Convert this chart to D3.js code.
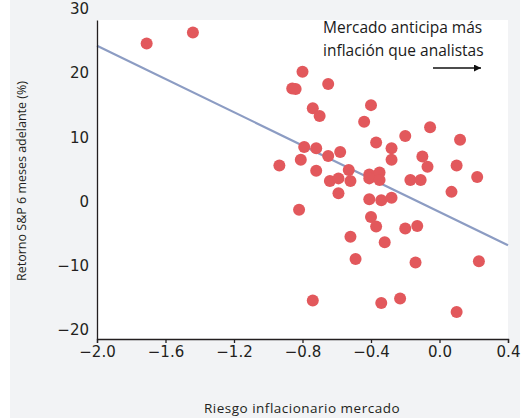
<!DOCTYPE html>
<html lang="es">
<head>
<meta charset="utf-8">
<title>Retorno S&P vs riesgo inflacionario</title>
<script src="https://d3js.org/d3.v7.min.js"></script>
<style>
  body { margin: 0; background: #ffffff; }
  .axis text { font-family: "DejaVu Sans", sans-serif; font-size: 15px; fill: #231f20; }
  .axis path, .axis line { stroke: #231f20; stroke-width: 1.3; }
  .axis_label { font-family: "Open Sans", sans-serif; font-size: 12px; fill: #231f20; }
  .note { font-family: "Open Sans", sans-serif; font-size: 15.5px; fill: #1a1a1a; }
</style>
</head>
<body>
<script>
// data: market inflation risk (x) vs S&P return 6 months ahead (y)
const riesgo = [-1.71, -1.44, -0.80, -0.86, -0.84, -0.65, -0.74, -0.70, -0.40, -0.44,
  -0.055, -0.20, 0.12, -0.37, -0.28, -0.79, -0.72, -0.58, -0.65, -0.10,
  -0.935, -0.81, -0.28, -0.07, 0.10, -0.72, -0.53, -0.41, -0.35, -0.41,
  -0.35, -0.64, -0.59, -0.52, -0.17, -0.11, 0.22, -0.59, 0.07, -0.41,
  -0.34, -0.28, -0.82, -0.40, -0.37, -0.20, -0.13, -0.52, -0.32, -0.49,
  -0.14, 0.23, -0.74, -0.34, -0.23, 0.10];
const retorno = [24.6, 26.3, 20.2, 17.6, 17.5, 18.3, 14.5, 13.3, 15.0, 12.4,
  11.55, 10.2, 9.6, 9.2, 8.3, 8.5, 8.3, 7.7, 7.1, 7.0,
  5.6, 6.5, 6.5, 5.4, 5.6, 4.8, 4.9, 4.2, 4.5, 3.6,
  3.35, 3.2, 3.6, 3.2, 3.35, 3.35, 3.8, 1.3, 1.5, 0.35,
  0.2, 0.6, -1.3, -2.4, -3.9, -4.2, -3.8, -5.5, -6.35, -8.95,
  -9.5, -9.3, -15.4, -15.8, -15.1, -17.2];

// fitted trend line: retorno = intercept + slope * riesgo
const fitIntercept = -1.63;
const fitSlope = -12.94;

const xTicks = [-2.0, -1.6, -1.2, -0.8, -0.4, 0.0, 0.4];
const yTicks = [-20, -10, 0, 10, 20, 30];
const noteLines = ["Mercado anticipa más", "inflación que analistas"];

const w = 529;
const h = 419;
const plot = { left: 97, right: 508, top: 20, bottom: 339 };

const xScale = d3.scaleLinear()
  .domain([-2.0, 0.4])
  .range([plot.left, plot.right]);

const yScale = d3.scaleLinear()
  .domain([-21.4, 28.25])
  .range([plot.bottom, plot.top]);

const svg = d3.select("body")
  .append("svg")
  .attr("width", w)
  .attr("height", h);

// grey panel + white plot area
svg.append("rect")
  .attr("x", 10).attr("y", 0)
  .attr("width", 510).attr("height", 418)
  .attr("fill", "#f2f3f5");

svg.append("rect")
  .attr("x", plot.left).attr("y", plot.top)
  .attr("width", plot.right - plot.left)
  .attr("height", plot.bottom - plot.top)
  .attr("fill", "#ffffff");

// trend line
const domainX = xScale.domain();
svg.append("line")
  .attr("x1", xScale(domainX[0]))
  .attr("y1", yScale(fitIntercept + fitSlope * domainX[0]))
  .attr("x2", xScale(domainX[1]))
  .attr("y2", yScale(fitIntercept + fitSlope * domainX[1]))
  .attr("stroke", "#8c9cc3")
  .attr("stroke-width", 2.2);

// dots
svg.selectAll(".dot")
  .data(d3.zip(riesgo, retorno))
  .join("circle")
  .attr("class", "dot")
  .attr("cx", d => xScale(d[0]))
  .attr("cy", d => yScale(d[1]))
  .attr("r", 6)
  .attr("fill", "#e2585c");

const fmtMinus = s => s.replace("-", "\u2212");

// bottom axis
const bottomAxis = d3.axisBottom(xScale)
  .tickValues(xTicks)
  .tickSize(4)
  .tickPadding(3)
  .tickFormat(d => fmtMinus(d3.format(".1f")(d)));

svg.append("g")
  .attr("class", "axis")
  .attr("transform", "translate(0," + plot.bottom + ")")
  .call(bottomAxis);

// left axis (no tick marks)
const leftAxis = d3.axisLeft(yScale)
  .tickValues(yTicks)
  .tickSize(0)
  .tickPadding(8)
  .tickFormat(d => fmtMinus(String(d)));

svg.append("g")
  .attr("class", "axis")
  .attr("transform", "translate(" + plot.left + ",0)")
  .call(leftAxis);

// axis titles
svg.append("text")
  .attr("class", "axis_label")
  .attr("text-anchor", "middle")
  .attr("transform", "translate(26,181) rotate(-90)")
  .style("font-size", "12.5px")
  .text("Retorno S&P 6 meses adelante (%)");

svg.append("text")
  .attr("class", "axis_label")
  .attr("x", 302)
  .attr("y", 413)
  .attr("text-anchor", "middle")
  .style("font-size", "13.5px")
  .style("letter-spacing", "0.5px")
  .text("Riesgo inflacionario mercado");

// annotation
svg.selectAll(".note")
  .data(noteLines)
  .join("text")
  .attr("class", "note")
  .attr("x", 323)
  .attr("y", (d, i) => 33 + i * 23)
  .text(d => d);

svg.append("defs").append("marker")
  .attr("id", "head")
  .attr("viewBox", "0 0 10 10")
  .attr("refX", 10).attr("refY", 5)
  .attr("markerWidth", 7).attr("markerHeight", 7)
  .attr("markerUnits", "userSpaceOnUse")
  .attr("orient", "auto")
  .append("path")
  .attr("d", "M0,0L10,5L0,10Z")
  .attr("fill", "#111");

svg.append("line")
  .attr("x1", 433).attr("y1", 68)
  .attr("x2", 481).attr("y2", 68)
  .attr("stroke", "#111")
  .attr("stroke-width", 1.3)
  .attr("marker-end", "url(#head)");
</script>
</body>
</html>
